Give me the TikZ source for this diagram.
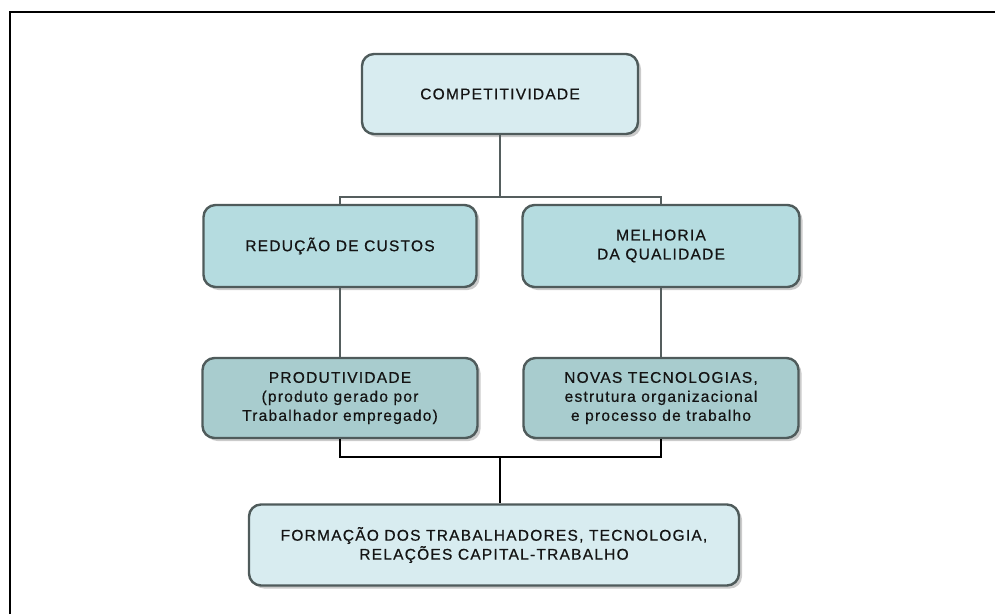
\documentclass[tikz,border=0pt]{standalone}
\usepackage{fontspec}
\setmainfont{Liberation Sans}
\usetikzlibrary{shadows}
\definecolor{boxlight}{HTML}{D8ECF0}
\definecolor{boxmid}{HTML}{B5DCE0}
\definecolor{boxlow}{HTML}{A8CCCE}
\definecolor{boxedge}{HTML}{4F5B5B}
\definecolor{linegray}{HTML}{555E5E}
\newcommand{\boxfont}{\fontsize{15.5}{19}\selectfont\addfontfeature{LetterSpace=8,FakeBold=0.6}}

\begin{document}
\begin{tikzpicture}[x=1pt, y=-1pt,
      blk/.style={draw=boxedge, line width=2.4pt, rounded corners=12pt, align=center, inner sep=0pt,
        font=\boxfont, text=black!92,
        drop shadow={shadow xshift=3pt, shadow yshift=-3pt, fill=black!45, opacity=0.45}},
      conn/.style={draw=linegray, line width=1.8pt},
      connb/.style={draw=black, line width=2.4pt}]
    \useasboundingbox (0,0) rectangle (995,614);
    % frame
    \draw[line width=2.6pt] (10,614) -- (10,12) -- (995,12);
    % boxes
    \node[blk, fill=boxlight, minimum width=276pt, minimum height=80pt] (comp) at (500,94) {COMPETITIVIDADE};
    \node[blk, fill=boxmid, minimum width=273pt, minimum height=82pt] (red) at (340,246) {REDUÇÃO DE CUSTOS};
    \node[blk, fill=boxmid, minimum width=277pt, minimum height=82pt] (mel) at (661,246) {MELHORIA\\DA QUALIDADE};
    \node[blk, fill=boxlow, minimum width=275pt, minimum height=80pt] (prod) at (340,398) {PRODUTIVIDADE\\(produto gerado por\\Trabalhador empregado)};
    \node[blk, fill=boxlow, minimum width=275pt, minimum height=80pt] (nov) at (661,398) {NOVAS TECNOLOGIAS,\\estrutura organizacional\\e processo de trabalho};
    \node[blk, fill=boxlight, minimum width=490pt, minimum height=81pt] (form) at (494,545) {FORMAÇÃO DOS TRABALHADORES, TECNOLOGIA,\\RELAÇÕES CAPITAL-TRABALHO};
    % connectors
    \coordinate (j1) at (500,197);
    \coordinate (j2) at (500,457);
    \draw[conn] (comp) -- (j1);
    \draw[conn] (red.north) |- (j1) -| (mel.north);
    \draw[conn] (red) -- (prod);
    \draw[conn] (mel) -- (nov);
    \draw[connb] (prod.south) |- (j2) -| (nov.south);
    \draw[connb] (j2) -- (j2 |- form.north);
  \end{tikzpicture}
\end{document}
